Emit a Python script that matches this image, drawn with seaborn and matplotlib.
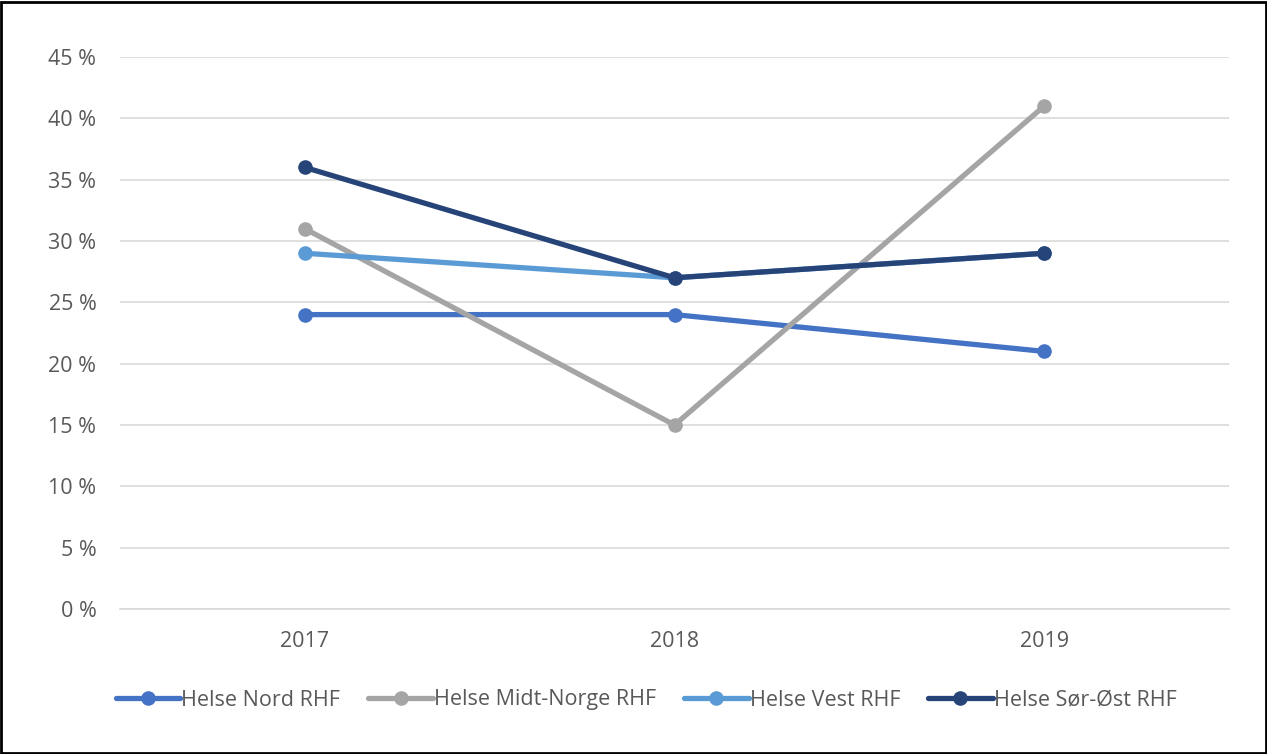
import numpy as np
import pandas as pd
import matplotlib
matplotlib.use("Agg")
import matplotlib.pyplot as plt
import seaborn as sns
from matplotlib.ticker import FuncFormatter
from matplotlib.patches import Rectangle

years = ["2017", "2018", "2019"]
regions = ["Helse Nord RHF", "Helse Midt-Norge RHF", "Helse Vest RHF", "Helse Sør-Øst RHF"]
nord = [24, 24, 21]
midt = [31, 15, 41]
vest = [29, 27, 29]
sorost = [36, 27, 29]
colors = ["#4472C4", "#A5A5A5", "#5B9BD5", "#264478"]

# long format for seaborn
df = pd.DataFrame({
    "year": years * 4,
    "region": np.repeat(regions, 3),
    "value": nord + midt + vest + sorost,
})

sns.set_theme(style="white")
plt.rcParams["font.family"] = ["Open Sans", "DejaVu Sans"]

fig = plt.figure(figsize=(12.67, 7.54), dpi=100)
ax = fig.add_axes([120 / 1267, 1 - 609 / 754, (1229 - 120) / 1267, (609 - 57) / 754])

sns.lineplot(data=df, x="year", y="value", hue="region", hue_order=regions,
             palette=colors, marker="o", markersize=10.5, markeredgewidth=0,
             linewidth=3.8, ax=ax, sort=False)

ax.set_xlim(-0.5, 2.5)
ax.set_ylim(0, 45)
ax.set_yticks(range(0, 46, 5))
ax.yaxis.set_major_formatter(FuncFormatter(lambda v, p: f"{int(v)} %"))
ax.grid(axis="y", color="#D9D9D9", linewidth=1.2)
ax.set_axisbelow(True)
for s in ["top", "right", "left"]:
    ax.spines[s].set_visible(False)
ax.spines["bottom"].set_color("#D9D9D9")
ax.spines["bottom"].set_linewidth(1.2)
ax.tick_params(axis="both", length=0, labelsize=15.5, labelcolor="#595959")
ax.tick_params(axis="x", pad=16)
ax.tick_params(axis="y", pad=17)
ax.set_xlabel("")
ax.set_ylabel("")

handles, labels = ax.get_legend_handles_labels()
ax.legend_.remove()
fig.legend(handles, labels, loc="center", bbox_to_anchor=(0.51, 1 - 700 / 754), ncol=4,
           frameon=False, fontsize=15.5, handlelength=3.0, handletextpad=0.05,
           columnspacing=1.3, labelcolor="#595959")

fig.add_artist(Rectangle((0.001, 0.001), 0.998, 0.997, transform=fig.transFigure,
                         fill=False, edgecolor="black", linewidth=2))

fig.savefig("out.png", dpi=100)
